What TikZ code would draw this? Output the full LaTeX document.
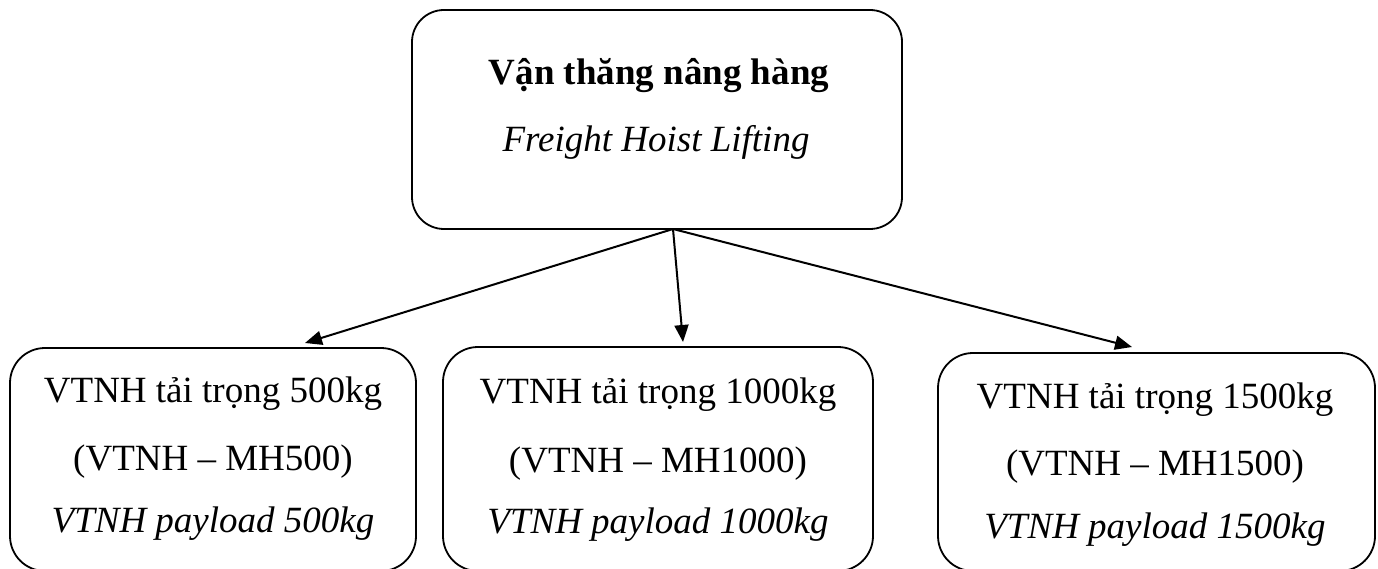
\documentclass[tikz,border=0pt]{standalone}
\usepackage{fontspec}
\setmainfont{Liberation Serif}
\usetikzlibrary{arrows.meta}
\begin{document}
\begin{tikzpicture}[x=1pt,y=-1pt,
  box/.style={draw,line width=1.8pt,rounded corners=#1,inner sep=0pt},
  box/.default=33pt,
  txt/.style={anchor=base,inner sep=0pt,font=\fontsize{37}{44}\selectfont},
  conn/.style={line width=2pt,-{Triangle[length=17pt,width=14pt]}}]
\useasboundingbox (0,0) rectangle (1378,569);
% boxes
\node[box=32pt,minimum width=490pt,minimum height=219pt] (top) at (657,119.5) {};
\node[box=35pt,minimum width=406pt,minimum height=223pt] (b1) at (213,459.5) {};
\node[box=35pt,minimum width=430pt,minimum height=224pt] (b2) at (658,459) {};
\node[box=35pt,minimum width=437pt,minimum height=218pt] (b3) at (1156.5,462) {};
% texts
\node[txt,font=\fontsize{37}{44}\selectfont\bfseries] (t1) at (659,85) {Vận thăng nâng hàng};
\node[txt,font=\fontsize{37}{44}\selectfont\itshape] (t2) at (656,152) {Freight Hoist Lifting};
\node[txt] (a1) at (213,402) {VTNH tải trọng 500kg};
\node[txt] (a2) at (213,470) {(VTNH – MH500)};
\node[txt,font=\fontsize{37}{44}\selectfont\itshape] (a3) at (213,532) {VTNH payload 500kg};
\node[txt] (c1) at (658,403) {VTNH tải trọng 1000kg};
\node[txt] (c2) at (658,472) {(VTNH – MH1000)};
\node[txt,font=\fontsize{37}{44}\selectfont\itshape] (c3) at (658,533) {VTNH payload 1000kg};
\node[txt] (d1) at (1155,408) {VTNH tải trọng 1500kg};
\node[txt] (d2) at (1155,475) {(VTNH – MH1500)};
\node[txt,font=\fontsize{37}{44}\selectfont\itshape] (d3) at (1155,538) {VTNH payload 1500kg};
% connectors
\coordinate (apex) at (673,229);
\coordinate (e1) at (305,343);
\coordinate (e2) at (683,342);
\coordinate (e3) at (1132,347);
\draw[conn] (apex) -- (e1);
\draw[conn] (apex) -- (e2);
\draw[conn] (apex) -- (e3);
\end{tikzpicture}
\end{document}
